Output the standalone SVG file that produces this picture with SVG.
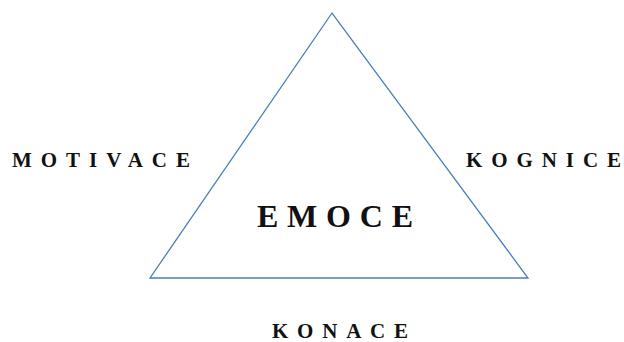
<svg xmlns="http://www.w3.org/2000/svg" width="624" height="342" viewBox="0 0 624 342">
<style>
.lbl{font-family:"Liberation Serif","Times New Roman",serif;font-weight:bold;fill:#111;}
.tri{fill:none;stroke:#4a7ebb;stroke-width:1.3;}
</style>
<rect width="624" height="342" fill="#fff"/>
<g id="connectors">
<polygon id="triangle" class="tri" points="332,13 150,278 528,278"/>
</g>
<g id="motivace"><text class="lbl" x="12" y="167" font-size="21" textLength="178" lengthAdjust="spacing">MOTIVACE</text></g>
<g id="kognice"><text class="lbl" x="466" y="167" font-size="21" textLength="155" lengthAdjust="spacing">KOGNICE</text></g>
<g id="emoce"><text class="lbl" x="257" y="227" font-size="32" textLength="156" lengthAdjust="spacing">EMOCE</text></g>
<g id="konace"><text class="lbl" x="272" y="338" font-size="21" textLength="136" lengthAdjust="spacing">KONACE</text></g>
</svg>
